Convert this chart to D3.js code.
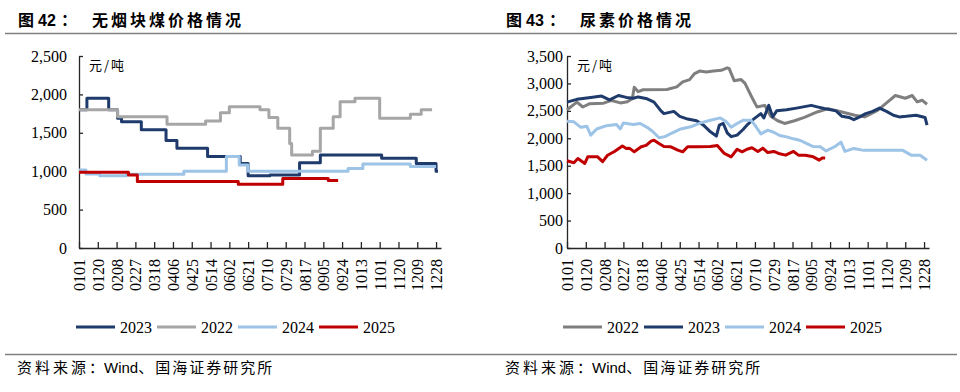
<!DOCTYPE html>
<html>
<head>
<meta charset="utf-8">
<script src="https://cdn.jsdelivr.net/npm/d3@7"></script>
<style>
  body { margin: 0; background: #fff; }
  svg { display: block; }
</style>
</head>
<body>
<script>
// x axis: day of year (0 = 0101), a label every 19 days
const tickLabels = ['0101','0120','0208','0227','0318','0406','0425','0514','0602','0621',
  '0710','0729','0817','0905','0924','1013','1101','1120','1209','1228'];

// anthracite lump coal, [day, price] at each price change
const coal2023 = [[0,1800],[8,1950],[30,1800],[39,1690],[43,1645],[63,1540],[88,1400],[99,1300],
  [130,1190],[163,1100],[171,940],[193,950],[223,1110],[244,1210],[306,1170],[341,1100],[361,1000],[363,1000]];
const coal2022 = [[0,1800],[39,1710],[89,1610],[128,1655],[143,1760],[152,1840],[183,1800],[192,1700],
  [201,1560],[213,1360],[215,1210],[236,1260],[244,1560],[257,1710],[264,1905],[279,1950],[304,1690],
  [335,1740],[346,1800],[357,1800]];
const coal2024 = [[0,1015],[7,965],[21,940],[48,960],[106,1000],[149,1190],[162,1080],[171,1000],
  [272,1035],[287,1095],[335,1060],[361,1060]];
const coal2025 = [[0,985],[50,950],[59,865],[161,830],[206,905],[252,880],[262,880]];

// urea, [day, price]
const urea2022 = [[0,2520],[10,2660],[16,2570],[23,2630],[37,2640],[45,2690],[54,2645],[61,2665],[66,2720],
  [68,2930],[72,2850],[77,2885],[101,2890],[111,2937],[117,3027],[124,3070],[129,3180],[134,3225],[141,3210],
  [148,3227],[156,3240],[162,3285],[164,3270],[169,3050],[176,3070],[180,3000],[186,2780],[192,2572],
  [200,2600],[206,2400],[213,2320],[220,2270],[230,2320],[240,2380],[253,2480],[264,2540],[278,2480],
  [291,2420],[301,2390],[314,2510],[324,2660],[332,2780],[342,2730],[349,2780],[354,2665],[359,2694],[364,2620]];
const urea2023 = [[0,2660],[10,2710],[24,2745],[35,2770],[43,2700],[52,2780],[60,2745],[67,2730],[72,2754],
  [81,2720],[88,2660],[95,2500],[98,2450],[108,2490],[114,2400],[122,2350],[131,2320],[138,2240],[145,2118],
  [151,2040],[154,2240],[158,2270],[162,2100],[166,2030],[172,2057],[178,2160],[183,2260],[188,2340],
  [196,2450],[199,2370],[204,2600],[208,2390],[212,2500],[222,2520],[232,2550],[247,2600],[253,2572],
  [260,2542],[272,2500],[278,2400],[285,2380],[290,2340],[296,2390],[302,2450],[309,2490],[316,2550],
  [323,2490],[330,2420],[336,2390],[343,2400],[353,2420],[362,2380],[364,2240]];
const urea2024 = [[0,2310],[7,2300],[14,2200],[20,2220],[24,2057],[30,2170],[40,2230],[50,2250],[54,2170],
  [57,2280],[67,2250],[74,2269],[81,2200],[87,2118],[93,2010],[99,2030],[105,2087],[115,2170],[125,2209],
  [135,2280],[145,2330],[155,2372],[161,2300],[166,2200],[172,2269],[178,2330],[186,2330],[190,2240],
  [196,2080],[203,2148],[209,2110],[215,2050],[222,2026],[229,1990],[236,1960],[242,1906],[249,1850],
  [256,1845],[262,1770],[271,1850],[277,1930],[281,1760],[290,1815],[300,1780],[313,1784],[326,1784],
  [339,1784],[348,1693],[357,1690],[364,1600]];
const urea2025 = [[0,1590],[7,1555],[11,1630],[18,1541],[21,1662],[31,1662],[36,1575],[41,1690],[48,1760],
  [56,1860],[60,1815],[63,1820],[68,1753],[75,1845],[80,1870],[85,1948],[88,1966],[93,1906],[98,1850],
  [105,1845],[112,1784],[117,1753],[122,1845],[132,1845],[145,1850],[152,1870],[159,1724],[166,1662],
  [172,1800],[177,1753],[182,1800],[187,1827],[193,1760],[198,1820],[203,1740],[209,1760],[214,1724],
  [221,1693],[229,1760],[234,1693],[241,1690],[249,1662],[255,1602],[258,1640],[261,1640]];

const coalTicks = [0, 500, 1000, 1500, 2000, 2500];
const ureaTicks = [0, 500, 1000, 1500, 2000, 2500, 3000, 3500];

const navy = '#1f3b6b', lightBlue = '#9dc3e6', red = '#c00000';
const serif = "'Liberation Serif','Times New Roman',serif";
const cjk = "'Noto Sans CJK SC','Noto Sans',sans-serif";
const sans = "'Liberation Sans',Arial,sans-serif";

const svg = d3.select('body').append('svg')
  .attr('width', 960)
  .attr('height', 392);

// header and footer rules
svg.append('line').attr('x1', 5).attr('x2', 957).attr('y1', 33.5).attr('y2', 33.5)
  .style('stroke', '#7f7f7f').style('stroke-width', 1.5);
svg.append('line').attr('x1', 5).attr('x2', 957).attr('y1', 354.5).attr('y2', 354.5)
  .style('stroke', '#7f7f7f').style('stroke-width', 1.5);

function drawPanel(p) {
  // title
  const t = svg.append('text').attr('y', 26).style('font-size', '16px').style('fill', '#000');
  t.append('tspan').attr('x', p.left).style('font-family', cjk).style('font-weight', 700).text('图');
  t.append('tspan').attr('x', p.left + 20).style('font-family', sans).style('font-weight', 700).text(p.num);
  t.append('tspan').attr('x', p.left + 43).style('font-family', cjk).style('font-weight', 700).text('：');
  t.append('tspan').attr('x', p.left + 74).style('font-family', cjk).style('font-weight', 700)
    .style('letter-spacing', '3px').text(p.title);

  const x = d3.scaleLinear().domain([0, 366]).range([p.x0, p.x0 + 362]);
  const y = d3.scaleLinear().domain([0, p.yMax]).range([248, 56]);

  const yAxis = svg.append('g')
    .attr('transform', `translate(${p.x0},0)`)
    .call(d3.axisLeft(y).tickValues(p.yTicks).tickFormat(d3.format(','))
      .tickSizeInner(-4).tickSizeOuter(0).tickPadding(p.yPad));
  yAxis.selectAll('text').style('font-family', serif).style('font-size', '16px').style('fill', '#000');

  const xAxis = svg.append('g')
    .attr('transform', 'translate(0,248)')
    .call(d3.axisBottom(x).tickValues(tickLabels.map((_, i) => i * 19))
      .tickFormat((d, i) => tickLabels[i]).tickSizeInner(-6).tickSizeOuter(0));
  xAxis.selectAll('text')
    .attr('transform', 'rotate(-90)')
    .attr('text-anchor', 'end')
    .attr('x', -11)
    .attr('y', 0)
    .attr('dy', '0.35em')
    .style('font-family', serif).style('font-size', '16px').style('fill', '#000');

  svg.selectAll('.domain, .tick line').style('stroke', '#262626').style('stroke-width', 1.3);

  svg.append('text')
    .attr('x', p.x0 + 10).attr('y', 70)
    .style('font-family', cjk).style('font-size', '13px').style('fill', '#000')
    .style('letter-spacing', '2px')
    .text('元/吨');

  const line = d3.line()
    .x(d => x(d[0]))
    .y(d => y(d[1]))
    .curve(p.step ? d3.curveStepAfter : d3.curveLinear);

  p.series.forEach(s => {
    svg.append('path')
      .datum(s.data)
      .attr('d', line)
      .style('fill', 'none')
      .style('stroke', s.color)
      .style('stroke-width', 3)
      .style('stroke-linejoin', 'round');
  });

  // legend
  let lx = p.legendX;
  p.series.forEach(s => {
    svg.append('line').attr('x1', lx).attr('x2', lx + 39).attr('y1', 327).attr('y2', 327)
      .style('stroke', s.color).style('stroke-width', 3);
    const txt = svg.append('text').attr('x', lx + 44).attr('y', 332.5)
      .style('font-family', serif).style('font-size', '16px').style('fill', '#000')
      .text(s.name);
    lx += 44 + txt.node().getComputedTextLength() + 5;
  });

  // source
  const f = svg.append('text').attr('x', p.left - 1).attr('y', 373)
    .style('font-size', '15px').style('fill', '#000');
  f.append('tspan').style('font-family', cjk).style('letter-spacing', '3px').text('资料来源');
  f.append('tspan').style('font-family', cjk).text('：');
  f.append('tspan').style('font-family', sans).text('Wind');
  f.append('tspan').style('font-family', cjk).style('letter-spacing', '2px').text('、国海证券研究所');
}

drawPanel({
  left: 18, num: '42', title: '无烟块煤价格情况',
  x0: 79, yMax: 2500, yTicks: coalTicks, yPad: 12, step: true, legendX: 76,
  series: [
    { name: '2023', color: navy, data: coal2023 },
    { name: '2022', color: '#a6a6a6', data: coal2022 },
    { name: '2024', color: lightBlue, data: coal2024 },
    { name: '2025', color: red, data: coal2025 }
  ]
});

drawPanel({
  left: 506, num: '43', title: '尿素价格情况',
  x0: 567, yMax: 3500, yTicks: ureaTicks, yPad: 4, step: false, legendX: 563,
  series: [
    { name: '2022', color: '#7f7f7f', data: urea2022 },
    { name: '2023', color: navy, data: urea2023 },
    { name: '2024', color: lightBlue, data: urea2024 },
    { name: '2025', color: red, data: urea2025 }
  ]
});
</script>
</body>
</html>
